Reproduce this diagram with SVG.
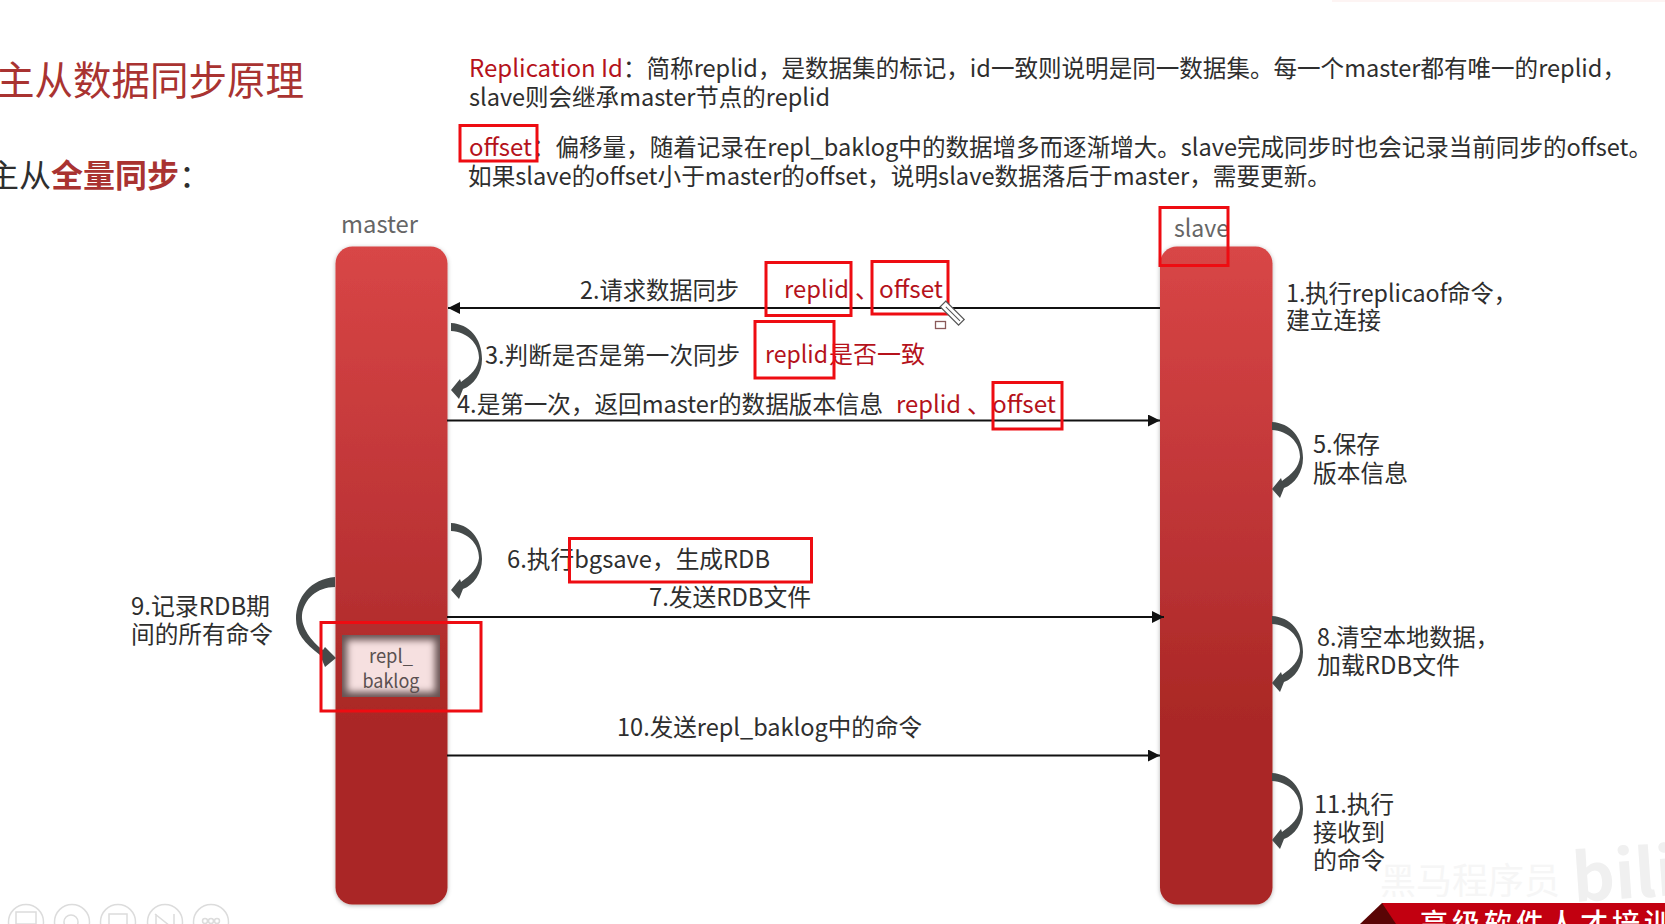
<svg xmlns="http://www.w3.org/2000/svg" width="1665" height="924" viewBox="0 0 1665 924">
<style>
text{font-family:"Noto Sans CJK SC","Microsoft YaHei","Noto Sans",sans-serif;font-size:24px;fill:#2e2e2e;white-space:pre}
.r{fill:#b5121b}
.g{fill:#666}
.box{fill:none;stroke:#ee0c12;stroke-width:3}
.conn{stroke:#111;stroke-width:2;fill:none}
.bar{fill:url(#barg);filter:url(#sh)}
.loop{fill:#454a4a}
.ic{fill:none;stroke:#dcdcdc;stroke-width:1.5}
</style>
<defs>
<linearGradient id="barg" x1="0" y1="0" x2="0" y2="1">
<stop offset="0" stop-color="#d84646"/><stop offset=".45" stop-color="#bc3335"/><stop offset=".72" stop-color="#aa2825"/><stop offset="1" stop-color="#aa2825"/>
</linearGradient>
<filter id="sh" x="-20%" y="-5%" width="140%" height="110%"><feDropShadow dx="0" dy="1" stdDeviation="2" flood-color="#000" flood-opacity=".3"/></filter>
<filter id="bl" x="-20%" y="-20%" width="140%" height="140%"><feGaussianBlur stdDeviation="3.500"/></filter>
<clipPath id="bc"><rect x="342" y="635" width="98" height="62"/></clipPath>
<marker id="ah" markerWidth="13" markerHeight="13" refX="12" refY="6" orient="auto" markerUnits="userSpaceOnUse"><path d="M0 0L12 6L0 12Z" fill="#111"/></marker>
<path id="lp" d="M0,0C18,1 31,15 31,36C31,50 23,62 12,66L8,76L0,67L9,56L10,59C20,52 27,45 28,35C28,20 16,9 0,8Z"/>
</defs>

<line x1="1332" y1="1" x2="1665" y2="1" stroke="#fdf1ef" stroke-width="1.500"/>

<g id="title">
<text x="-4" y="95" style="font-size:40px;fill:#a93331" textLength="308" lengthAdjust="spacingAndGlyphs">主从数据同步原理</text>
<text x="-13" y="187" style="font-size:32px">主从<tspan style="font-weight:700;fill:#a93331">全量同步</tspan>：</text>
</g>

<g id="notes">
<text x="469" y="77" class="r" textLength="154" lengthAdjust="spacingAndGlyphs">Replication Id</text>
<text x="623" y="77" textLength="1003" lengthAdjust="spacingAndGlyphs">：简称replid，是数据集的标记，id一致则说明是同一数据集。每一个master都有唯一的replid，</text>
<text x="469" y="106" textLength="361" lengthAdjust="spacingAndGlyphs">slave则会继承master节点的replid</text>
<text x="469" y="156" class="r" textLength="63" lengthAdjust="spacingAndGlyphs">offset</text>
<text x="532" y="156" textLength="1120" lengthAdjust="spacingAndGlyphs">：偏移量，随着记录在repl_baklog中的数据增多而逐渐增大。slave完成同步时也会记录当前同步的offset。</text>
<text x="468" y="185" textLength="863" lengthAdjust="spacingAndGlyphs">如果slave的offset小于master的offset，说明slave数据落后于master，需要更新。</text>
</g>

<g id="master">
<text x="341" y="233" class="g" textLength="77" lengthAdjust="spacingAndGlyphs">master</text>
<rect class="bar" x="335.500" y="246.500" width="112" height="658" rx="17"/>
</g>
<g id="slave">
<text x="1174" y="237" class="g" textLength="55" lengthAdjust="spacingAndGlyphs">slave</text>
<rect class="bar" x="1160" y="246.500" width="112.500" height="658" rx="17"/>
</g>
<g id="repl-baklog">
<rect x="342" y="635" width="98" height="62" fill="#675252"/>
<g clip-path="url(#bc)"><rect x="347" y="640" width="88" height="52" fill="#f6e0e0" filter="url(#bl)"/></g>
<text x="391" y="663" text-anchor="middle" style="font-size:19px;fill:#5a5050" textLength="44" lengthAdjust="spacingAndGlyphs">repl_</text>
<text x="391" y="688" text-anchor="middle" style="font-size:19px;fill:#5a5050" textLength="57" lengthAdjust="spacingAndGlyphs">baklog</text>
</g>

<g id="connectors">
<line class="conn" x1="1160" y1="308" x2="448" y2="308" marker-end="url(#ah)"/>
<line class="conn" x1="447" y1="420.500" x2="1160" y2="420.500" marker-end="url(#ah)"/>
<line class="conn" x1="447" y1="617" x2="1164" y2="617" marker-end="url(#ah)"/>
<line class="conn" x1="447" y1="755.500" x2="1160" y2="755.500" marker-end="url(#ah)"/>
<use class="loop" href="#lp" x="451" y="323"/>
<use class="loop" href="#lp" x="451" y="523"/>
<use class="loop" href="#lp" x="1272" y="422"/>
<use class="loop" href="#lp" x="1272" y="616"/>
<use class="loop" href="#lp" x="1272" y="773"/>
<path class="loop" transform="translate(335 577)" d="M0,0C-24,2 -39,20 -39,42C-39,56 -31,66 -15,78L-10,90L1,81L-10,70L-12,73C-24,64 -34,50 -33,38C-31,22 -18,10 0,10Z"/>
</g>

<g id="labels">
<text x="580" y="299" textLength="159" lengthAdjust="spacingAndGlyphs">2.请求数据同步</text>
<text x="784" y="298" class="r" textLength="65" lengthAdjust="spacingAndGlyphs">replid</text>
<text x="855" y="298" class="r">、</text>
<text x="879" y="298" class="r" textLength="64" lengthAdjust="spacingAndGlyphs">offset</text>
<text x="1286" y="302" textLength="231" lengthAdjust="spacingAndGlyphs">1.执行replicaof命令，</text>
<text x="1286" y="329" textLength="95" lengthAdjust="spacingAndGlyphs">建立连接</text>
<text x="485" y="364" textLength="255" lengthAdjust="spacingAndGlyphs">3.判断是否是第一次同步</text>
<text x="765" y="363" class="r" textLength="63" lengthAdjust="spacingAndGlyphs">replid</text>
<text x="829" y="363" class="r" textLength="96" lengthAdjust="spacingAndGlyphs">是否一致</text>
<text x="457" y="413" textLength="426" lengthAdjust="spacingAndGlyphs">4.是第一次，返回master的数据版本信息</text>
<text x="896" y="413" class="r" textLength="65" lengthAdjust="spacingAndGlyphs">replid</text>
<text x="967" y="413" class="r">、</text>
<text x="992" y="413" class="r" textLength="64" lengthAdjust="spacingAndGlyphs">offset</text>
<text x="1313" y="453" textLength="67" lengthAdjust="spacingAndGlyphs">5.保存</text>
<text x="1313" y="482" textLength="95" lengthAdjust="spacingAndGlyphs">版本信息</text>
<text x="507" y="568" textLength="263" lengthAdjust="spacingAndGlyphs">6.执行bgsave，生成RDB</text>
<text x="649" y="606" textLength="162" lengthAdjust="spacingAndGlyphs">7.发送RDB文件</text>
<text x="1317" y="646" textLength="182" lengthAdjust="spacingAndGlyphs">8.清空本地数据，</text>
<text x="1317" y="674" textLength="143" lengthAdjust="spacingAndGlyphs">加载RDB文件</text>
<text x="131" y="615" textLength="139" lengthAdjust="spacingAndGlyphs">9.记录RDB期</text>
<text x="131" y="643" textLength="142" lengthAdjust="spacingAndGlyphs">间的所有命令</text>
<text x="617" y="736" textLength="305" lengthAdjust="spacingAndGlyphs">10.发送repl_baklog中的命令</text>
<text x="1314" y="813" textLength="80" lengthAdjust="spacingAndGlyphs">11.执行</text>
<text x="1313" y="841" textLength="72" lengthAdjust="spacingAndGlyphs">接收到</text>
<text x="1313" y="869" textLength="72" lengthAdjust="spacingAndGlyphs">的命令</text>
</g>

<g id="annotations">
<rect class="box" x="460" y="125.500" width="77" height="35.500"/>
<rect class="box" x="1160" y="207.500" width="68" height="58"/>
<rect class="box" x="766" y="262.500" width="85" height="53"/>
<rect class="box" x="872" y="261.500" width="76" height="52.500"/>
<rect class="box" x="755" y="321.500" width="79" height="56.500"/>
<rect class="box" x="993" y="382.500" width="69" height="46.500"/>
<rect class="box" x="569.500" y="538.500" width="242" height="43.500"/>
<rect class="box" x="321" y="622.500" width="160" height="88.500"/>
<g transform="translate(943 304) rotate(-45)"><rect x="-4" y="0" width="8" height="26" fill="#fff" stroke="#555" stroke-width="1.200"/><line x1="0" y1="4" x2="0" y2="24" stroke="#555"/></g>
<rect x="935.500" y="321.500" width="10" height="7" fill="#fff" stroke="#8a5a5a" stroke-width="1.300"/>
</g>

<g id="footer">
<circle class="ic" cx="26" cy="922" r="17.500"/><rect class="ic" x="16" y="912" width="20" height="12"/>
<circle class="ic" cx="72" cy="922" r="17.500"/><circle class="ic" cx="71" cy="922" r="7"/>
<circle class="ic" cx="118" cy="922" r="17.500"/><rect class="ic" x="109" y="914" width="18" height="12"/>
<circle class="ic" cx="165" cy="922" r="17.500"/><path class="ic" d="M155 914L175 930M156 914V926M174 914V926"/>
<circle class="ic" cx="211" cy="922" r="17.500"/><circle class="ic" cx="205" cy="921" r="2.500"/><circle class="ic" cx="211" cy="921" r="2.500"/><circle class="ic" cx="217" cy="921" r="2.500"/>
<path d="M1360 924L1382 903L1396 924Z" fill="#5a0505"/>
<rect x="1382" y="903" width="283" height="21" fill="#c20010"/>
<path d="M1382 903L1396 924H1382Z" fill="#5a0505"/>
<text x="1420" y="934" style="font-size:28px;fill:#fff;letter-spacing:4px;font-weight:500">高级软件人才培训</text>
<text x="1380" y="894" style="font-size:36px;fill:#f6f6f6">黑马程序员</text>
<text x="1574" y="902" style="font-size:66px;font-weight:700;fill:#f0f0f0" transform="rotate(-4 1574 902)">bili</text>
</g>
</svg>
